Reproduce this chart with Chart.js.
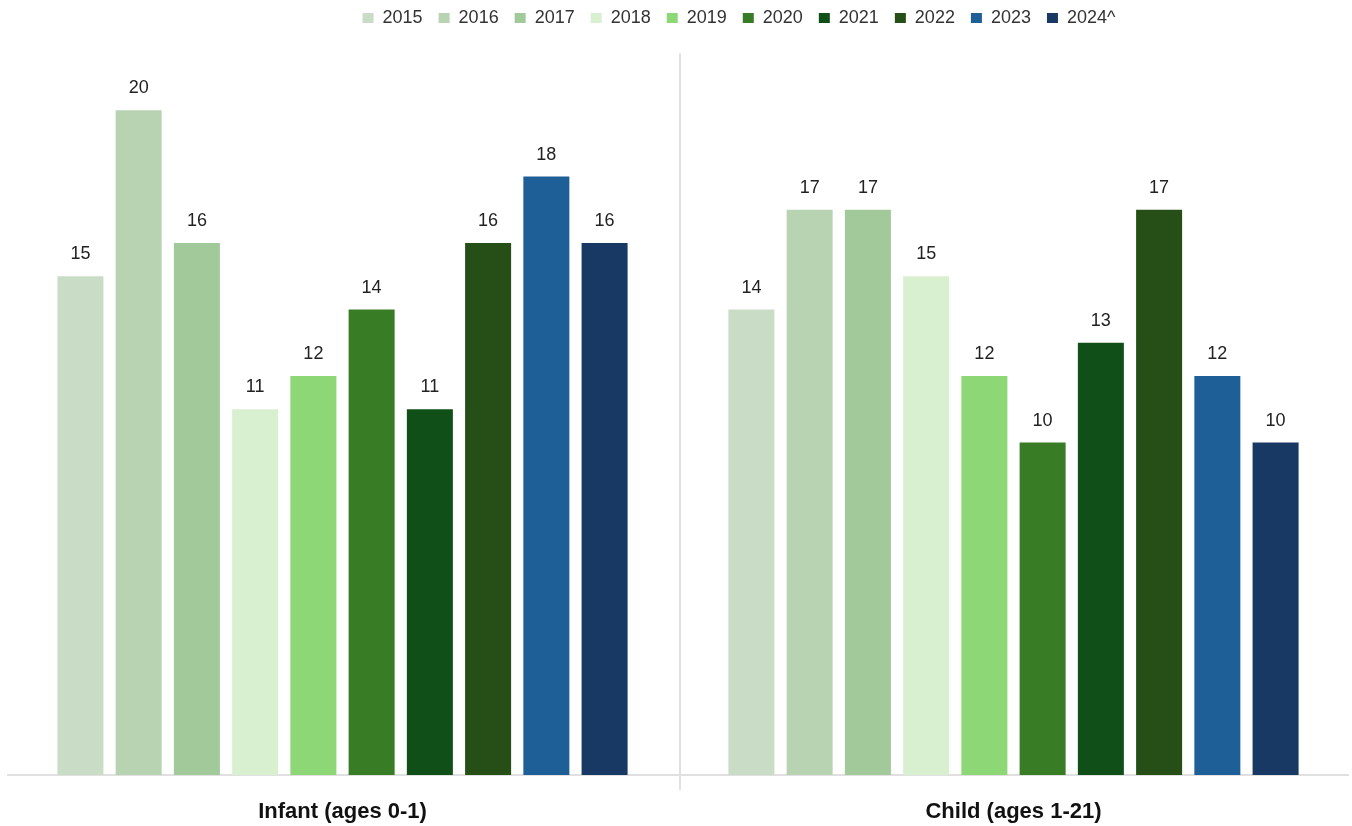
<!DOCTYPE html>
<html>
<head>
<meta charset="utf-8">
<script src="https://cdn.jsdelivr.net/npm/chart.js@4.4.1/dist/chart.umd.min.js"></script>
<style>
  body { margin: 0; background: #fff; }
  #wrap { width: 1352px; height: 826px; }
</style>
</head>
<body>
<div id="wrap"><canvas id="grafico"></canvas></div>
<script>
const categorias = ["Infant (ages 0-1)", "Child (ages 1-21)"];
const anios = ["2015", "2016", "2017", "2018", "2019", "2020", "2021", "2022", "2023", "2024^"];
const infante = [15, 20, 16, 11, 12, 14, 11, 16, 18, 16];
const nino = [14, 17, 17, 15, 12, 10, 13, 17, 12, 10];
const colores = ["#c9dcc6", "#b8d3b2", "#a2c99a", "#d8f0d0", "#8ed776",
                 "#387c25", "#114f18", "#254f16", "#1f5f98", "#173964"];

const fuente = "'Liberation Sans', Arial, sans-serif";

// etiquetas encima de cada barra
const etiquetas = {
  id: "etiquetas",
  afterDatasetsDraw(chart) {
    const ctx = chart.ctx;
    ctx.save();
    ctx.fillStyle = "#222";
    ctx.font = "18px " + fuente;
    ctx.textAlign = "center";
    ctx.textBaseline = "middle";
    chart.data.datasets.forEach((ds, i) => {
      chart.getDatasetMeta(i).data.forEach((bar, j) => {
        ctx.fillText(ds.data[j], bar.x, bar.y - 22);
      });
    });
    ctx.restore();
  }
};

// linea divisoria entre grupos y linea base
const divisor = {
  id: "divisor",
  beforeDatasetsDraw(chart) {
    const ctx = chart.ctx;
    const x = chart.scales.x;
    const y = chart.scales.y;
    const medio = (x.getPixelForValue(0) + x.getPixelForValue(1)) / 2 + 2;
    ctx.save();
    ctx.strokeStyle = "#e0e0e0";
    ctx.lineWidth = 2;
    ctx.beginPath();
    ctx.moveTo(medio, y.getPixelForValue(21.7));
    ctx.lineTo(medio, y.getPixelForValue(0) + 15);
    ctx.stroke();
    ctx.beginPath();
    ctx.moveTo(chart.chartArea.left, y.getPixelForValue(0));
    ctx.lineTo(chart.chartArea.right, y.getPixelForValue(0));
    ctx.stroke();
    ctx.restore();
  }
};

// la leyenda original no esta centrada, va algo a la derecha
const moverLeyenda = {
  id: "moverLeyenda",
  afterLayout(chart) {
    chart.legend.left += 61;
    chart.legend.right += 61;
  }
};

const ctx = document.getElementById("grafico").getContext("2d");
new Chart(ctx, {
  type: "bar",
  data: {
    labels: categorias,
    datasets: anios.map((anio, i) => ({
      label: anio,
      data: [infante[i], nino[i]],
      backgroundColor: colores[i],
      barPercentage: 0.79,
      categoryPercentage: 0.868
    }))
  },
  options: {
    responsive: true,
    maintainAspectRatio: false,
    animation: false,
    layout: { padding: { left: 7, right: 3, top: -7, bottom: 0 } },
    plugins: {
      legend: {
        position: "top",
        labels: {
          boxWidth: 11,
          boxHeight: 10,
          padding: 16,
          color: "#333",
          font: { size: 18, family: fuente }
        }
      },
      tooltip: { enabled: false }
    },
    scales: {
      x: {
        grid: { display: false },
        border: { display: false },
        afterFit(scale) { scale.height = 51; },
        ticks: {
          color: "#111",
          padding: 16,
          font: { size: 22, weight: "bold", family: fuente }
        }
      },
      y: {
        min: 0,
        max: 22.2,
        display: false
      }
    }
  },
  plugins: [divisor, etiquetas, moverLeyenda]
});
</script>
</body>
</html>
